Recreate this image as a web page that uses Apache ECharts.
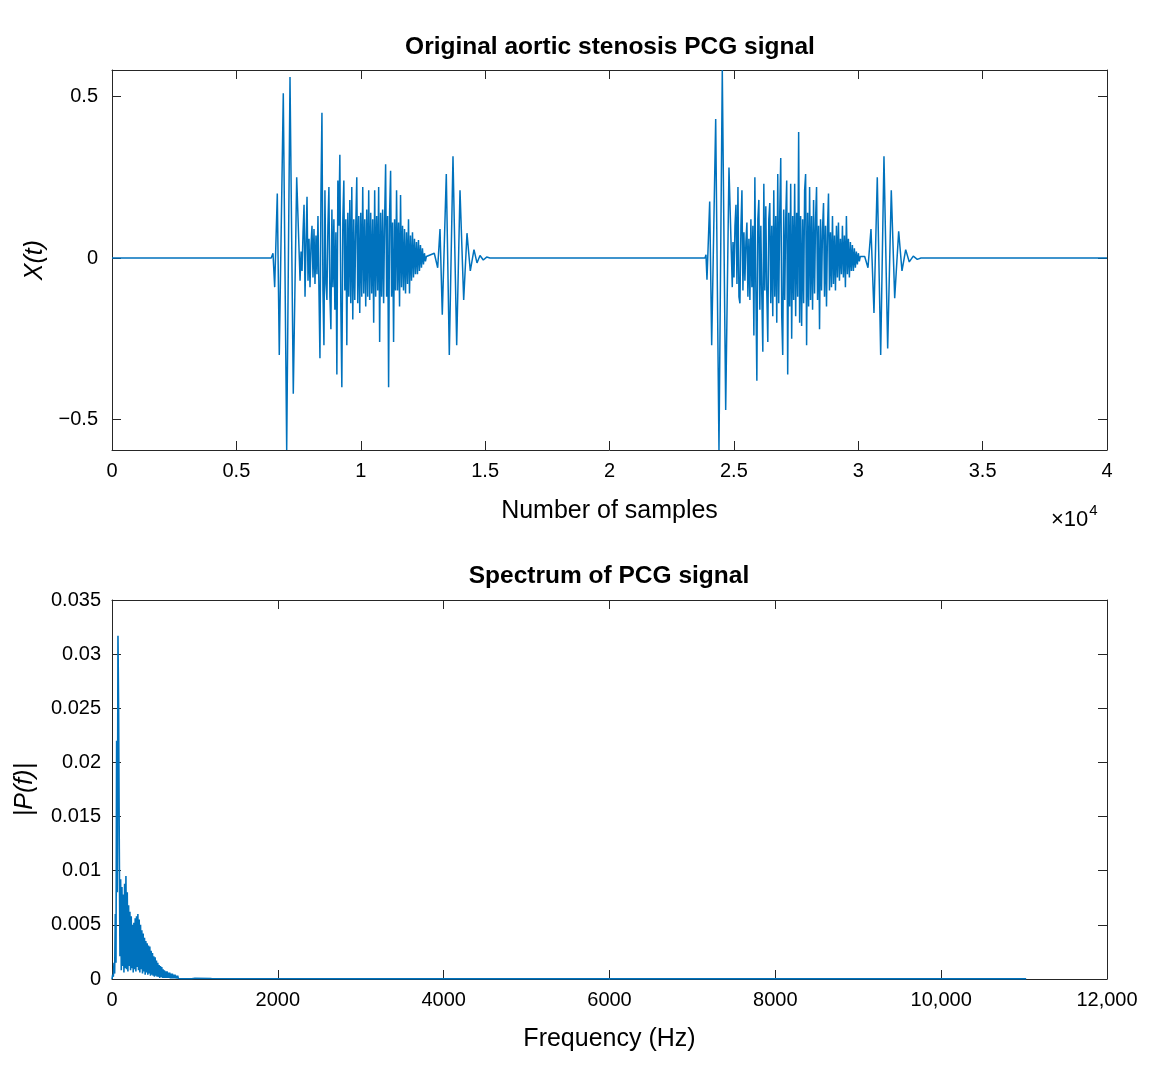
<!DOCTYPE html>
<html>
<head>
<meta charset="utf-8">
<script src="https://cdn.jsdelivr.net/npm/echarts@6/dist/echarts.min.js"></script>
<style>
html,body{margin:0;padding:0;background:#fff;}
#chart{width:1155px;height:1075px;}
</style>
</head>
<body>
<div id="chart"></div>
<script>
// ---------- DATA ----------
// Top panel: PCG signal (sample index, amplitude)
const topTickLabels = ['0','0.5','1','1.5','2','2.5','3','3.5','4'];
const signalLead = [[0,0],[6400,0]];
// burst 1, S1 (sample, value)
const burst1S1 = [[6472,0.015],[6540,-0.09],[6645,0.20],[6725,-0.30],[6886,0.51],[7023,-0.594],[7156,0.56],[7288,-0.42],[7425,0.25]];
// burst 1 murmur: start sample, step (samples), values
const murmur1Start = 7560;
const murmurStep = 40;
const murmur1 = [-0.07,0.02,-0.04,0.08,0.165,-0.12,0.05,0.19,-0.07,0.06,-0.09,0.04,0.10,-0.06,0.09,-0.08,0.07,-0.05,0.13,-0.10,
 -0.31,0.20,0.45,-0.10,-0.27,0.21,-0.08,-0.13,0.10,0.22,-0.12,-0.22,0.15,-0.09,0.12,-0.16,0.08,-0.36,0.24,0.10,
 0.32,-0.15,-0.40,0.12,0.24,-0.10,0.12,-0.27,0.14,-0.12,0.18,-0.14,0.22,-0.19,0.12,-0.13,0.10,0.25,-0.14,0.13,
 -0.17,0.14,-0.12,0.22,-0.11,0.12,-0.15,0.15,-0.12,0.21,-0.13,0.14,-0.11,0.12,-0.20,0.21,-0.12,0.13,-0.10,0.22,
 -0.26,0.14,-0.12,0.15,-0.14,0.12,0.29,-0.12,0.13,-0.40,0.14,0.27,-0.12,0.11,-0.26,0.12,-0.10,0.21,-0.10,0.11,
 -0.15,0.195,-0.09,0.10,-0.10,0.09,-0.11,0.08,-0.08,0.12,-0.11,0.07,-0.07,0.08,-0.06,0.06,-0.05,0.05,-0.05,0.056,
 -0.04,0.04,-0.03,0.03,-0.02,0.015,-0.01,0.005,0];
// burst 1, S2
const burst1S2 = [[12956,0.015],[13093,-0.03],[13186,0.09],[13278,-0.175],[13439,0.26],[13560,-0.30],[13708,0.315],[13857,-0.27],[13990,0.21],[14138,-0.13],[14271,0.077],[14404,-0.04],[14552,0.026],[14673,-0.015],[14794,0.008],[14926,-0.006],[15062,0.003],[15196,0]];
// burst 2, S1
const burst2S1 = [[23839,0],[23879,0.01],[23919,-0.067],[24028,0.175],[24108,-0.27],[24269,0.43],[24401,-0.594],[24534,0.582],[24671,-0.47],[24803,0.28],[24936,-0.09]];
// burst 2 murmur
const murmur2Start = 24964;
const murmur2 = [0.05,-0.06,0.10,0.165,-0.08,0.22,-0.12,-0.14,0.10,0.21,-0.10,0.08,-0.07,0.05,0.11,-0.12,0.06,-0.13,0.12,-0.09,
 0.10,-0.24,0.25,-0.10,-0.38,0.12,0.18,-0.16,0.10,-0.12,-0.29,0.23,-0.10,0.16,-0.11,-0.26,0.12,0.17,-0.14,0.10,
 -0.18,0.21,-0.12,0.13,-0.20,0.26,-0.14,0.14,0.31,-0.18,-0.30,0.15,-0.13,0.12,0.24,-0.36,0.14,-0.15,0.23,-0.25,
 0.13,-0.13,0.23,-0.18,0.14,-0.12,0.39,-0.20,0.13,-0.21,0.12,-0.14,0.21,0.26,-0.27,0.14,-0.15,0.22,-0.13,0.13,
 -0.16,0.18,-0.11,0.12,0.22,-0.13,0.10,-0.22,0.12,-0.10,0.09,0.17,-0.12,0.10,-0.15,0.09,0.20,-0.10,0.08,-0.09,
 0.13,-0.08,0.07,-0.10,0.10,-0.06,0.11,-0.07,0.06,-0.05,0.10,-0.06,0.07,-0.09,0.13,-0.05,0.06,-0.06,0.05,-0.04,
 0.04,-0.04,0.03,-0.03,0.02,-0.02,0.015,-0.01,0.005,0];
// burst 2, S2
const burst2S2 = [[30259,0.005],[30391,-0.03],[30512,0.09],[30632,-0.17],[30765,0.25],[30902,-0.30],[31034,0.315],[31183,-0.28],[31328,0.21],[31465,-0.124],[31625,0.083],[31758,-0.04],[31907,0.026],[32051,-0.012],[32212,0.006],[32373,-0.004],[32522,0]];
const signalTail = [[40000,0]];

// Bottom panel: spectrum |P(f)| (dense part on an 8 Hz grid, then tail)
const specStep = 8;
const specDense = [0,0.0004,0.0002,0.0015,0.0005,0.006,0.0015,0.022,0.008,0.0317,
 0.0245,0.012,0.0021,0.0092,0.0008,0.0085,0.0012,0.0078,0.0006,0.0088,
 0.0010,0.0095,0.0009,0.0080,0.0007,0.0068,0.0012,0.0062,0.0008,0.0058,
 0.0010,0.0050,0.0006,0.0052,0.0009,0.0056,0.0007,0.0058,0.0011,0.0060,
 0.0008,0.0055,0.0006,0.0050,0.0009,0.0045,0.0005,0.0042,0.0007,0.0038,
 0.0004,0.0035,0.0006,0.0033,0.0004,0.0031,0.0005,0.0030,0.0003,0.0026,
 0.0004,0.0024,0.0003,0.0021,0.0002,0.0020,0.0003,0.0017,0.0002,0.0015,
 0.0002,0.0013,0.0001,0.0012,0.0002,0.0011,0.0001,0.0009,0.0001,0.0008,
 0.0001,0.0007,0.0001,0.0007,0.0001,0.0006,0.0001,0.0006,0.00005,0.0005,
 0.00005,0.0005,0.00005,0.0004,0.00005,0.0004,0.00005,0.0003,0.00005,0.0003,
 0.00005,0.0002,0.00003,0.0002,0.00003,0.0002,0.00003,0.00015,0.00003,0.00015,
 0.00002,0.0001,0.00002,0.0001,0.00002,0.0001,0.00002,0.0001,0.00002,0.00008,0.00002];
const specTail = [[1000,0.00006],[1200,0.00004],[1500,0.00003],[2000,0.00002],[3000,0.00001],[5000,0.00001],[8000,0.00001],[11025,0.00001]];

// ---------- BUILD SERIES ----------
function expand(start, step, vals){ return vals.map((v,i)=>[start+i*step, v]); }
const signalData = [].concat(signalLead, burst1S1, expand(murmur1Start, murmurStep, murmur1), burst1S2,
  burst2S1, expand(murmur2Start, murmurStep, murmur2), burst2S2, signalTail);
const specData = expand(0, specStep, specDense).concat(specTail);

const FONT = "'Liberation Sans', Arial, Helvetica, sans-serif";
const AX = '#262626';
const LINE = '#0072BD';

function boxAxis(base, extra){
  return Object.assign({
    type:'value', splitLine:{show:false},
    axisLine:{show:true, onZero:false, lineStyle:{color:AX, width:1}},
    axisTick:{show:true, inside:true, length:9, lineStyle:{color:AX}},
    axisLabel:{show:false}
  }, base, extra||{});
}

const chart = echarts.init(document.getElementById('chart'), null, {renderer:'canvas'});
const option = {
  animation:false,
  backgroundColor:'#fff',
  grid:[
    {left:112, right:48, top:70, height:380, show:false},
    {left:112, right:48, top:600, height:379, show:false}
  ],
  xAxis:[
    boxAxis({gridIndex:0, min:0, max:40000, interval:5000, position:'bottom'},{
      axisLabel:{show:true, color:'#000', fontFamily:FONT, fontSize:20, margin:11,
        formatter:(v)=>topTickLabels[Math.round(v/5000)]},
      name:'Number of samples', nameLocation:'middle', nameGap:49,
      nameTextStyle:{color:'#000', fontFamily:FONT, fontSize:25}
    }),
    boxAxis({gridIndex:0, min:0, max:40000, interval:5000, position:'top'}),
    boxAxis({gridIndex:1, min:0, max:12000, interval:2000, position:'bottom'},{
      axisLabel:{show:true, color:'#000', fontFamily:FONT, fontSize:20, margin:11,
        formatter:(v)=> v>=10000 ? (Math.floor(v/1000)+','+String(v%1000).padStart(3,'0')) : String(v)},
      name:'Frequency (Hz)', nameLocation:'middle', nameGap:48,
      nameTextStyle:{color:'#000', fontFamily:FONT, fontSize:25}
    }),
    boxAxis({gridIndex:1, min:0, max:12000, interval:2000, position:'top'})
  ],
  yAxis:[
    boxAxis({gridIndex:0, min:-0.594, max:0.582, position:'left'},{
      axisTick:{show:true, inside:true, length:9, lineStyle:{color:AX}, customValues:[-0.5,0,0.5]},
      axisLabel:{show:true, color:'#000', fontFamily:FONT, fontSize:20, margin:14, customValues:[-0.5,0,0.5],
        formatter:(v)=> (v<0?'\u2212':'')+String(Math.abs(v))},
      name:'X(t)', nameLocation:'middle', nameGap:58,
      nameTextStyle:{color:'#000', fontFamily:FONT, fontSize:25, fontStyle:'italic'}
    }),
    boxAxis({gridIndex:0, min:-0.594, max:0.582, position:'right'},{
      axisTick:{show:true, inside:true, length:9, lineStyle:{color:AX}, customValues:[-0.5,0,0.5]}
    }),
    boxAxis({gridIndex:1, min:0, max:0.035, interval:0.005, position:'left'},{
      axisLabel:{show:true, color:'#000', fontFamily:FONT, fontSize:20, margin:11,
        formatter:(v)=> v===0 ? '0' : String(+v.toFixed(3))},
      name:'|P(f)|', nameLocation:'middle', nameGap:74,
      nameTextStyle:{color:'#000', fontFamily:FONT, fontSize:25, fontStyle:'italic'}
    }),
    boxAxis({gridIndex:1, min:0, max:0.035, interval:0.005, position:'right'})
  ],
  series:[
    {type:'line', xAxisIndex:0, yAxisIndex:0, data:signalData, showSymbol:false, symbol:'none',
      lineStyle:{color:LINE, width:1.5}, sampling:null, clip:true},
    {type:'line', xAxisIndex:2, yAxisIndex:2, data:specData, showSymbol:false, symbol:'none',
      lineStyle:{color:LINE, width:1.6}, sampling:null, clip:true}
  ],
  graphic:[
    {type:'text', x:610, y:47, style:{text:'Original aortic stenosis PCG signal', fill:'#000',
      font:"bold 24.5px "+FONT, align:'center', verticalAlign:'middle'}},
    {type:'text', x:609, y:576, style:{text:'Spectrum of PCG signal', fill:'#000',
      font:"bold 24.5px "+FONT, align:'center', verticalAlign:'middle'}},
    {type:'text', x:1051, y:503, style:{text:'{a|\u00d710}{b|4}', fill:'#000',
      rich:{a:{fontFamily:FONT, fontSize:22, fill:'#000', verticalAlign:'bottom', lineHeight:28},
            b:{fontFamily:FONT, fontSize:15, fill:'#000', verticalAlign:'top', lineHeight:28, padding:[0,0,14,1]}}}}
  ]
};
chart.setOption(option);
</script>
</body>
</html>
